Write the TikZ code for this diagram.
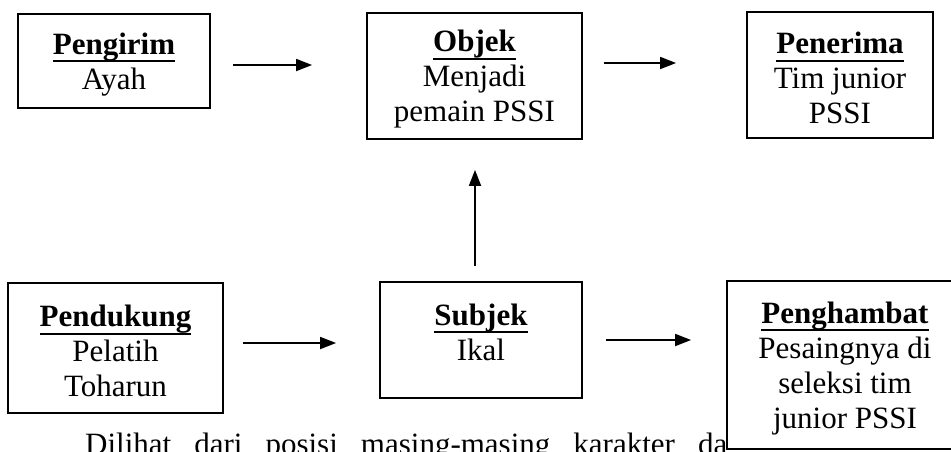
\documentclass[tikz,border=0pt]{standalone}
\usepackage{fontspec}
\setmainfont{Liberation Serif}
\usetikzlibrary{arrows.meta}

\newlength\roleulwd
\newcommand\roletitle[1]{\settowidth\roleulwd{\textbf{#1}}\rule{0pt}{28pt}\textbf{#1}\llap{\rule[-8pt]{\roleulwd}{1.8pt}}}

\begin{document}
\begin{tikzpicture}[x=1pt,y=-1pt,
  role/.style={draw,line width=1.8pt,fill=white,align=center,inner sep=0pt,
    font=\fontsize{31}{35}\selectfont},
  arr/.style={line width=1.8pt,-{Triangle[length=16pt,width=12pt]}}]
\useasboundingbox (0,0) rectangle (951,451);

% running text of the page, partly hidden by the last box
\node[anchor=base west,inner sep=0pt,font=\fontsize{31}{35}\selectfont] (para) at (85,454)
  {\makebox[642pt][s]{Dilihat dari posisi masing-masing karakter da}};

% top row
\node[role,minimum width=192pt,minimum height=94pt] (pengirim) at (114,61)
  {\roletitle{Pengirim}\\Ayah};
\node[role,minimum width=215pt,minimum height=126pt] (objek) at (474.5,76)
  {\roletitle{Objek}\\Menjadi\\pemain PSSI};
\node[role,minimum width=186pt,minimum height=126pt] (penerima) at (840,75)
  {\roletitle{Penerima}\\Tim junior\\PSSI};

% bottom row
\node[role,minimum width=215pt,minimum height=130pt] (pendukung) at (115.5,348)
  {\roletitle{Pendukung}\\Pelatih\\Toharun};
\node[role,minimum width=202pt,minimum height=116pt,text depth=23pt] (subjek) at (481,340)
  {\roletitle{Subjek}\\Ikal};
\node[role,minimum width=236pt,minimum height=168pt] (penghambat) at (845,365)
  {\roletitle{Penghambat}\\Pesaingnya di\\seleksi tim\\junior PSSI};

\draw[arr,shorten <=22pt,shorten >=54pt]
  ([yshift=-4pt]pengirim.east) -- ([yshift=-4pt]pengirim.east -| objek.west);
\draw[arr,shorten <=21pt,shorten >=70pt]
  ([yshift=13pt]objek.east) -- ([yshift=13pt]objek.east -| penerima.west);
\draw[arr,shorten <=19pt,shorten >=43pt]
  ([yshift=5pt]pendukung.east) -- ([yshift=5pt]pendukung.east -| subjek.west);
\draw[arr,shorten <=23pt,shorten >=35pt]
  (subjek.east) -- (subjek.east -| penghambat.west);
\draw[arr,shorten <=15pt,shorten >=30pt]
  ([xshift=-6pt]subjek.north) -- ([xshift=-6pt]subjek.north |- objek.south);
\end{tikzpicture}
\end{document}
